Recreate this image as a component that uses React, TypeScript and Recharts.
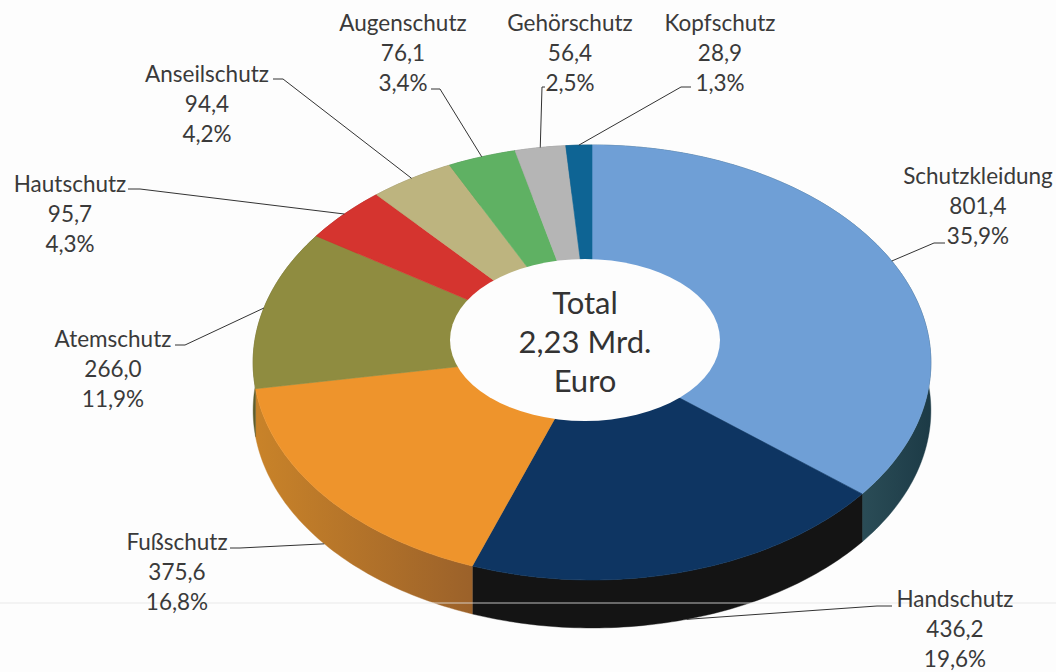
import React from 'react';
import { PieChart, Pie } from 'recharts';

const categories = ['Schutzkleidung', 'Handschutz', 'Fußschutz', 'Atemschutz', 'Hautschutz', 'Anseilschutz', 'Augenschutz', 'Gehörschutz', 'Kopfschutz'];
const values = [801.4, 436.2, 375.6, 266.0, 95.7, 94.4, 76.1, 56.4, 28.9];
const shares = ['35,9%', '19,6%', '16,8%', '11,9%', '4,3%', '4,2%', '3,4%', '2,5%', '1,3%'];
const topColors = ['#6f9fd6', '#0e3562', '#ee942c', '#8f8c40', '#d5342f', '#bdb47f', '#5fb163', '#b5b5b5', '#0e6494'];
const wallColors = ['url(#wallBlue)', '#141414', 'url(#wallOrange)', '#5f5d2a', '#8f2320', '#7f7a55', '#3f7742', '#7a7a7a', '#0a4263'];
const centerLines = ['Total', '2,23 Mrd.', 'Euro'];

// label centre + elbow of the leader, all in page pixels
const labelX = [978, 955, 177, 113, 70, 207, 403, 570, 720];
const labelY = [175, 598, 541, 338, 183, 73, 22, 22, 22];
const elbows = [
  [[945, 243], [934, 243]],
  [[892, 606], [877, 606]],
  [[230, 548], [240, 548]],
  [[175, 345], [185, 345]],
  [[128, 189], [140, 189]],
  [[273, 79], [283, 79]],
  [[431, 89], [440, 89]],
  [[545, 87], [542, 87]],
  [[691, 87], [681, 87]],
];

const WIDTH = 1056;
const HEIGHT = 672;
const CX = 592;
const CY = 352;
const RX = 338.5;
const RY = 217;
const DEPTH = 48;
const PERSPECTIVE = 0.0482;
const BG = '#fdfdfd';
const FONT = 'Lato, sans-serif';

const rows = categories.map((name, i) => ({ name, value: values[i], fill: topColors[i] }));
const wallRows = categories.map((name, i) => ({ name, value: values[i], fill: wallColors[i] }));
const holeRows = [{ name: 'Total', value: 1, fill: BG }];

// tilted disc: maps a pie angle onto the rim, with the centre pushed back a bit
const rimPoint = (angle: number) => {
  const rad = (angle * Math.PI) / 180;
  const x = Math.cos(rad);
  const y = -Math.sin(rad);
  const d = 1 - PERSPECTIVE * y;
  return { x: CX + (RX * x) / d, y: CY + (RY * y) / d, front: y > 0 };
};

const rimPoints = (start: number, end: number) => {
  const pts = [];
  const n = Math.max(2, Math.ceil(Math.abs(end - start)));
  for (let i = 0; i <= n; i++) pts.push(rimPoint(start + ((end - start) * i) / n));
  return pts;
};

const TopSlice = (props: any) => {
  const pts = rimPoints(props.startAngle, props.endAngle);
  const d = `M${CX},${CY}` + pts.map((p) => `L${p.x},${p.y}`).join('') + 'Z';
  return <path d={d} fill={props.fill} stroke={props.fill} strokeWidth={0.6} />;
};

const WallSlice = (props: any) => {
  const pts = rimPoints(props.startAngle, props.endAngle);
  const down = [...pts].reverse().map((p) => `L${p.x},${p.y + DEPTH}`).join('');
  const d = `M${pts[0].x},${pts[0].y}` + pts.map((p) => `L${p.x},${p.y}`).join('') + down + 'Z';
  return <path d={d} fill={props.fill} stroke={props.fill} strokeWidth={0.4} />;
};

// the hole is flat and sits a little off centre, and carries the total + the scan streak
const HoleSlice = (props: any) => (
  <g>
    <ellipse cx={props.cx} cy={props.cy} rx={props.outerRadius} ry={81} fill={props.fill} />
    {centerLines.map((t, i) => (
      <text
        key={t}
        x={props.cx}
        y={302 + i * 39}
        textAnchor="middle"
        dominantBaseline="central"
        fontFamily={FONT}
        fontSize={31}
        fill="#333"
      >
        {t}
      </text>
    ))}
    <line x1={0} y1={603} x2={WIDTH} y2={603} stroke="#e6e6e6" strokeOpacity={0.55} strokeWidth={1.5} />
  </g>
);

const SliceLabel = (props: any) => {
  const i = props.index;
  const rim = rimPoint(props.midAngle);
  const endY = rim.y + (rim.front ? DEPTH : 0);
  const leader = [...elbows[i], [rim.x, endY]].map((p) => p.join(',')).join(' ');
  const lines = [categories[i], values[i].toFixed(1).replace('.', ','), shares[i]];
  return (
    <g>
      <polyline points={leader} fill="none" stroke="#333" strokeWidth={1} />
      {lines.map((t, k) => (
        <text
          key={k}
          x={labelX[i]}
          y={labelY[i] + k * 30}
          textAnchor="middle"
          dominantBaseline="central"
          fontFamily={FONT}
          fontSize={22.5}
          fill="#3a3a3a"
        >
          {t}
        </text>
      ))}
    </g>
  );
};

export default function App() {
  return (
    <div style={{ position: 'absolute', left: 0, top: 0, width: WIDTH, height: HEIGHT, background: BG }}>
      <PieChart width={WIDTH} height={HEIGHT} margin={{ top: 0, right: 0, bottom: 0, left: 0 }}>
        <defs>
          <linearGradient id="wallOrange" gradientUnits="userSpaceOnUse" x1="255" y1="0" x2="469" y2="0">
            <stop offset="0%" stopColor="#c98329" />
            <stop offset="100%" stopColor="#9c622a" />
          </linearGradient>
          <linearGradient id="wallBlue" gradientUnits="userSpaceOnUse" x1="860" y1="0" x2="932" y2="0">
            <stop offset="0%" stopColor="#2b4d57" />
            <stop offset="100%" stopColor="#1c3a46" />
          </linearGradient>
        </defs>
        <Pie
          data={wallRows}
          dataKey="value"
          cx={CX}
          cy={CY}
          outerRadius={RX}
          startAngle={90}
          endAngle={-270}
          stroke="none"
          shape={WallSlice}
          inactiveShape={WallSlice}
          isAnimationActive={false}
        />
        <Pie
          data={rows}
          dataKey="value"
          cx={CX}
          cy={CY}
          outerRadius={RX}
          startAngle={90}
          endAngle={-270}
          stroke="none"
          shape={TopSlice}
          inactiveShape={TopSlice}
          label={SliceLabel}
          labelLine={false}
          isAnimationActive={false}
        />
        <Pie
          data={holeRows}
          dataKey="value"
          cx={585}
          cy={340}
          outerRadius={135}
          stroke="none"
          shape={HoleSlice}
          inactiveShape={HoleSlice}
          isAnimationActive={false}
        />
      </PieChart>
    </div>
  );
}
